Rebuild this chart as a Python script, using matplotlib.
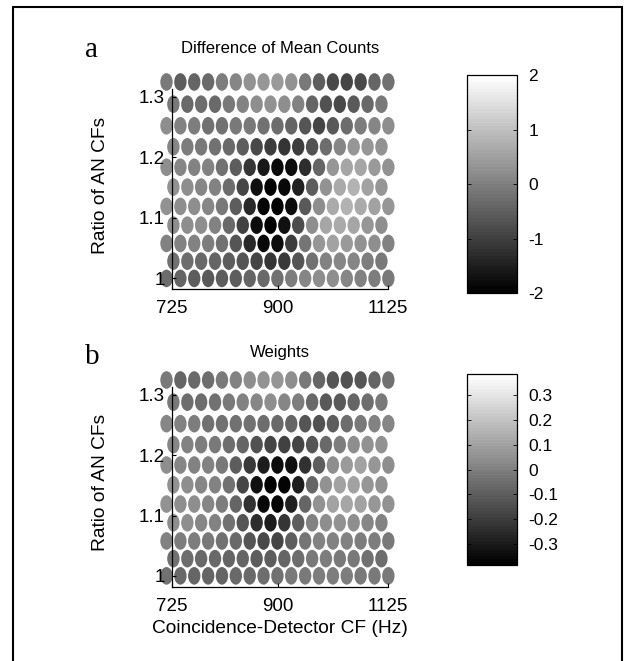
import numpy as np
import matplotlib
matplotlib.use('Agg')
import matplotlib.pyplot as plt
from matplotlib.path import Path
from matplotlib.markers import MarkerStyle
from matplotlib.ticker import FixedLocator, FixedFormatter, NullLocator
from matplotlib.patches import Rectangle
from matplotlib.transforms import Affine2D
from matplotlib.cm import ScalarMappable
from matplotlib.colors import Normalize

plt.rcParams['font.family'] = ['Liberation Sans', 'DejaVu Sans']
plt.rcParams['axes.unicode_minus'] = False

# ---------------- data ----------------
# AN CF grid (Hz): CD CFs of even ratio rows
cf_grid = [717.4, 737.9, 758.9, 780.6, 802.8, 825.7, 849.3, 873.5, 898.4,
           924.0, 950.4, 977.5, 1005.4, 1034.1, 1063.6, 1093.9, 1125.1]
# half-step CD CFs (Hz): CD CFs of odd ratio rows
cf_half = [727.5, 748.4, 769.6, 791.6, 814.2, 837.4, 861.3, 885.9,
           911.1, 937.1, 963.9, 991.3, 1019.6, 1048.7, 1078.7, 1109.4]
# ratio of AN CFs, rows from bottom to top
ratios = [1.0, 1.0285, 1.0578, 1.0880, 1.1190, 1.1509, 1.1837, 1.2175,
          1.2522, 1.2879, 1.3246]

# panel a: difference of mean counts (rows bottom -> top)
diff_counts = [
    [-0.27, -0.43, -0.51, -0.59, -0.51, -0.51, -0.43, -0.35, -0.20, -0.04, 0.12, 0.20, 0.20, 0.12, 0.04, -0.04, -0.12],
    [-0.20, -0.27, -0.35, -0.43, -0.51, -0.67, -0.93, -1.14, -1.09, -0.67, -0.24, 0.04, 0.12, 0.07, -0.04, -0.12],
    [0.04, 0.04, 0.04, -0.04, -0.24, -0.67, -1.37, -1.87, -1.81, -1.06, -0.15, 0.35, 0.51, 0.43, 0.27, 0.20, 0.04],
    [0.20, 0.20, 0.20, 0.04, -0.35, -0.98, -1.81, -2.0, -1.72, -0.78, 0.20, 0.59, 0.67, 0.59, 0.35, 0.20],
    [0.27, 0.20, 0.20, 0.12, -0.12, -0.56, -1.37, -1.92, -2.0, -1.76, -0.62, 0.20, 0.67, 0.75, 0.67, 0.51, 0.35],
    [0.27, 0.20, 0.12, 0.04, -0.27, -0.90, -1.72, -1.97, -1.87, -1.45, -0.51, 0.27, 0.67, 0.75, 0.51, 0.35],
    [0.20, 0.12, 0.04, 0.04, -0.20, -0.51, -1.14, -1.61, -1.84, -1.76, -1.29, -0.43, 0.35, 0.59, 0.59, 0.43, 0.27],
    [0.12, -0.04, -0.12, -0.20, -0.35, -0.56, -0.82, -1.06, -1.14, -1.06, -0.75, -0.27, 0.12, 0.35, 0.35, 0.27],
    [0.20, 0.04, -0.04, -0.20, -0.20, -0.12, -0.12, -0.20, -0.31, -0.43, -0.67, -0.93, -0.62, -0.27, -0.04, 0.12, 0.20],
    [-0.12, -0.35, -0.27, -0.35, -0.12, 0.04, 0.20, 0.27, 0.20, 0.04, -0.43, -0.75, -0.87, -0.59, -0.35, -0.12],
    [-0.12, -0.51, -0.43, -0.35, -0.04, 0.12, 0.27, 0.35, 0.43, 0.27, -0.12, -0.51, -0.82, -0.93, -0.87, -0.43, -0.20],
]

# panel b: weights (rows bottom -> top)
weights = [
    [-0.038, -0.069, -0.084, -0.084, -0.084, -0.069, -0.069, -0.054, -0.038, -0.023, -0.023, -0.008, -0.008, -0.008, -0.023, -0.023, -0.023],
    [-0.038, -0.054, -0.069, -0.069, -0.084, -0.084, -0.099, -0.099, -0.084, -0.054, -0.023, -0.008, -0.023, -0.023, -0.038, -0.054],
    [0.008, -0.008, -0.008, -0.023, -0.038, -0.069, -0.121, -0.161, -0.170, -0.099, -0.029, 0.008, 0.008, 0.008, -0.008, -0.008, -0.023],
    [0.038, 0.038, 0.023, 0.008, -0.038, -0.130, -0.252, -0.292, -0.222, -0.099, 0.008, 0.038, 0.054, 0.038, 0.023, 0.008],
    [0.054, 0.038, 0.038, 0.023, -0.008, -0.084, -0.237, -0.353, -0.366, -0.283, -0.084, 0.054, 0.099, 0.115, 0.099, 0.069, 0.054],
    [0.054, 0.038, 0.023, 0.008, -0.038, -0.176, -0.329, -0.384, -0.366, -0.298, -0.084, 0.054, 0.099, 0.099, 0.069, 0.054],
    [0.038, 0.023, 0.008, 0.008, -0.023, -0.099, -0.206, -0.298, -0.344, -0.335, -0.237, -0.099, 0.038, 0.084, 0.099, 0.069, 0.038],
    [0.023, 0.008, -0.008, -0.023, -0.054, -0.084, -0.145, -0.176, -0.191, -0.176, -0.130, -0.069, -0.008, 0.038, 0.054, 0.054],
    [0.023, 0.008, -0.008, -0.038, -0.038, -0.038, -0.038, -0.054, -0.069, -0.084, -0.130, -0.145, -0.099, -0.054, -0.023, 0.008, 0.023],
    [-0.023, -0.054, -0.054, -0.038, -0.023, 0.008, 0.023, 0.038, 0.023, -0.008, -0.069, -0.115, -0.115, -0.084, -0.054, -0.023],
    [-0.023, -0.084, -0.069, -0.054, -0.023, 0.008, 0.038, 0.054, 0.069, 0.038, -0.023, -0.084, -0.130, -0.145, -0.130, -0.084, -0.038],
]

x_ticks = [725, 900, 1125]
x_ticklabels = ['725', '900', '1125']
y_ticks = [1.0, 1.1, 1.2, 1.3]
y_ticklabels = ['1', '1.1', '1.2', '1.3']
cb_a_ticks = [-2, -1, 0, 1, 2]
cb_a_labels = ['-2', '-1', '0', '1', '2']
cb_b_ticks = [-0.3, -0.2, -0.1, 0, 0.1, 0.2, 0.3]
cb_b_labels = ['-0.3', '-0.2', '-0.1', '0', '0.1', '0.2', '0.3']

# ---------------- figure ----------------
W, H = 628, 661
DPI = 100
fig = plt.figure(figsize=(W / DPI, H / DPI), dpi=DPI)


def rect(x0, y0, x1, y1):
    """pixel box (top-left origin) -> figure fraction rect"""
    return [x0 / W, 1 - y1 / H, (x1 - x0) / W, (y1 - y0) / H]


# ellipse marker
circ = Path.unit_circle()
ell_path = Affine2D().scale(1.0, 1.42).transform_path(circ)
ell_marker = MarkerStyle(ell_path)
marker_h_pt = 17.6 * 72 / DPI
cmap = plt.get_cmap('gray', 64)

tick_fs = 13.5
title_fs = 12
lab_fs = 13.8
cb_fs = 12.5


def panel(box, data, vlim, title, letter, title_y, letter_y, xlabel=None):
    ax = fig.add_axes(rect(*box))
    xs, ys, cs = [], [], []
    for k, row in enumerate(data):
        xpos = cf_grid if k % 2 == 0 else cf_half
        for x, v in zip(xpos, row):
            xs.append(x)
            ys.append(ratios[k])
            cs.append(v)
    ax.scatter(xs, ys, c=cs, cmap=cmap, vmin=-vlim, vmax=vlim,
               marker=ell_marker, s=marker_h_pt ** 2, linewidths=0,
               clip_on=False, zorder=1)
    ax.set_xscale('log')
    ax.set_xlim(725, 1125)
    ax.set_ylim(0.982, 1.313)
    ax.xaxis.set_major_locator(FixedLocator(x_ticks))
    ax.xaxis.set_major_formatter(FixedFormatter(x_ticklabels))
    ax.xaxis.set_minor_locator(NullLocator())
    ax.yaxis.set_major_locator(FixedLocator(y_ticks))
    ax.yaxis.set_major_formatter(FixedFormatter(y_ticklabels))
    ax.spines['top'].set_visible(False)
    ax.spines['right'].set_visible(False)
    for s in ('left', 'bottom'):
        ax.spines[s].set_linewidth(0.9)
        ax.spines[s].set_zorder(3)
    ax.tick_params(direction='in', length=3, width=0.8, labelsize=tick_fs)
    ax.tick_params(axis='x', pad=8)
    ax.tick_params(axis='y', pad=5)
    ax.patch.set_visible(False)
    ax.set_ylabel('Ratio of AN CFs', fontsize=lab_fs)
    ax.yaxis.set_label_coords((109 - box[0]) / (box[2] - box[0]), 0.52)
    if xlabel:
        ax.set_xlabel(xlabel, fontsize=lab_fs, labelpad=4)
    cx = (box[0] + box[2]) / 2
    fig.text(cx / W, 1 - title_y / H, title, ha='center', va='baseline',
             fontsize=title_fs)
    fig.text(85 / W, 1 - letter_y / H, letter, ha='left', va='baseline',
             fontsize=21, family=['Liberation Serif', 'DejaVu Serif'])
    return ax


ax_a = panel((171.7, 89, 388.3, 289.3), diff_counts, 2.0,
             'Difference of Mean Counts', 'a', 53, 57)
ax_b = panel((171.7, 387, 388.3, 586.7), weights, 0.387,
             'Weights', 'b', 357, 364,
             xlabel='Coincidence-Detector CF (Hz)')


def cbar(box, vlim, ticks, labels):
    cax = fig.add_axes(rect(*box))
    sm = ScalarMappable(norm=Normalize(-vlim, vlim), cmap=cmap)
    cb = fig.colorbar(sm, cax=cax)
    cb.outline.set_linewidth(0.9)
    cb.set_ticks(ticks)
    cb.set_ticklabels(labels)
    cax.yaxis.set_minor_locator(NullLocator())
    cax.tick_params(direction='in', length=3, width=0.6, left=True,
                    right=True, labelsize=cb_fs, pad=8)
    return cb


cbar((467.3, 75, 517.3, 293.3), 2.0, cb_a_ticks, cb_a_labels)
cbar((467.3, 374, 517.3, 565), 0.387, cb_b_ticks, cb_b_labels)

# outer frame
fig.add_artist(Rectangle((13 / W, -0.02), (622 - 13) / W, 1 - 7 / H + 0.02,
                         transform=fig.transFigure, fill=False,
                         edgecolor='black', linewidth=1.5))

fig.savefig('out.png', dpi=DPI)
